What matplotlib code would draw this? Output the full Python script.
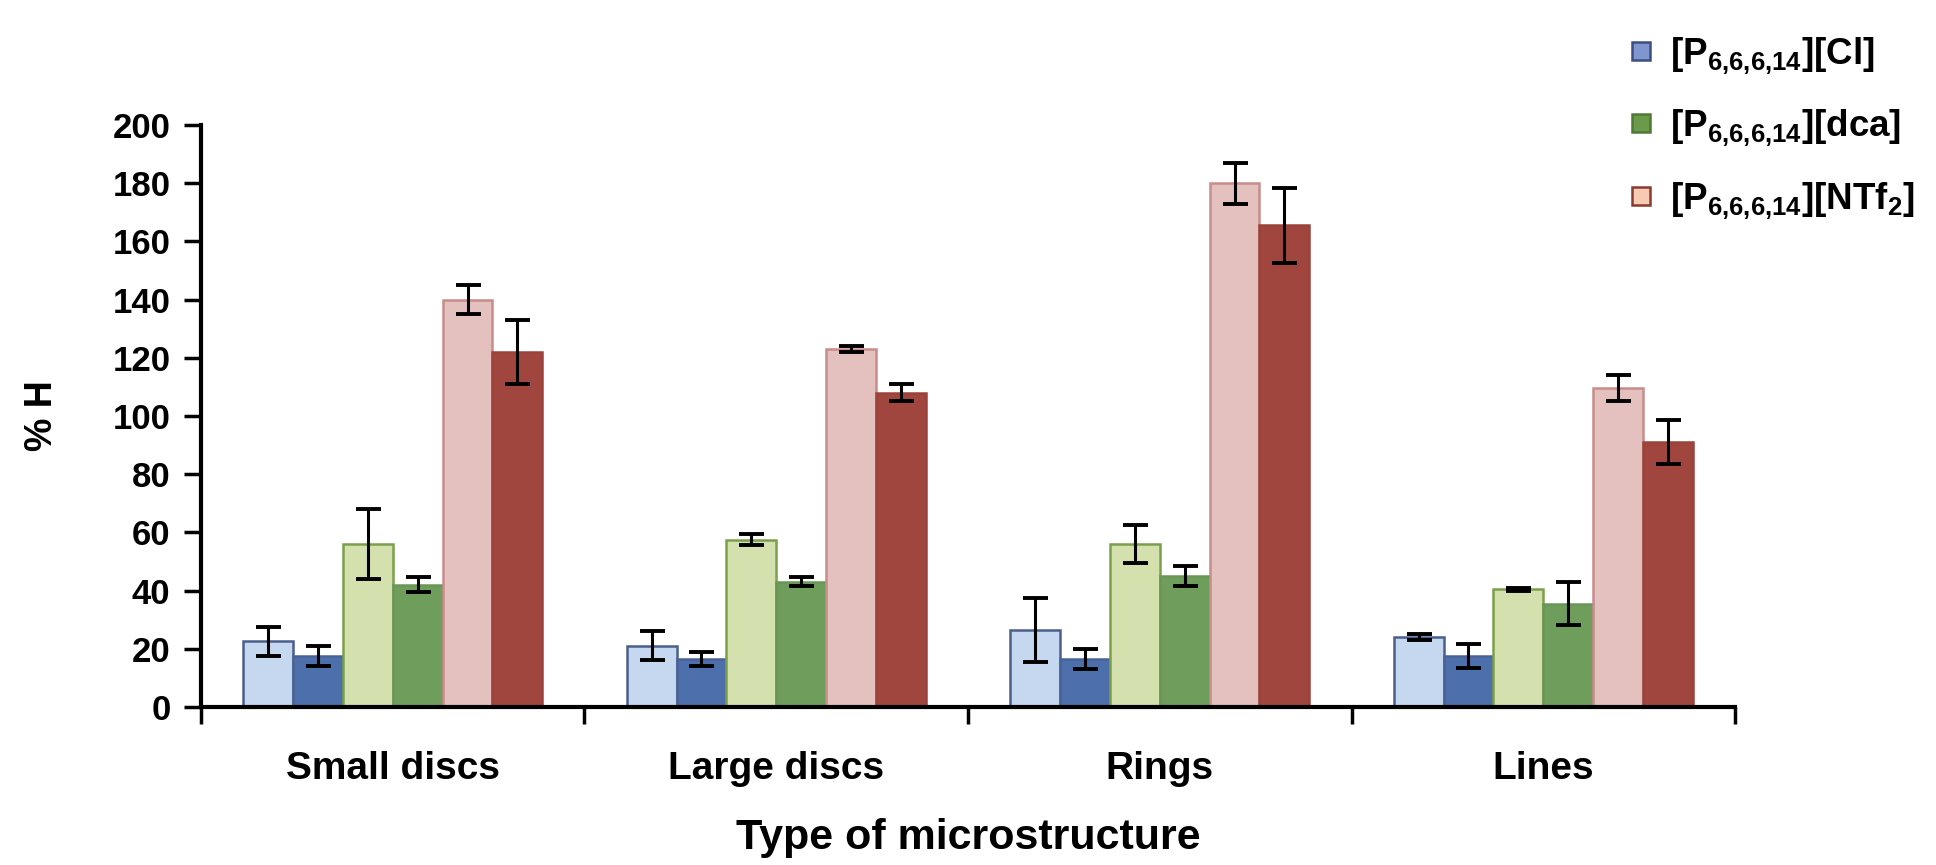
import matplotlib
matplotlib.use("Agg")
import matplotlib.pyplot as plt
from matplotlib.lines import Line2D
import numpy as np

plt.rcParams['font.family'] = ['Liberation Sans', 'DejaVu Sans']
plt.rcParams['font.weight'] = 'bold'
plt.rcParams['mathtext.fontset'] = 'custom'
plt.rcParams['mathtext.rm'] = 'Liberation Sans:bold'
plt.rcParams['mathtext.bf'] = 'Liberation Sans:bold'
plt.rcParams['mathtext.it'] = 'Liberation Sans:bold'

categories = ["Small discs", "Large discs", "Rings", "Lines"]
series_names = ["Cl a", "Cl b", "dca a", "dca b", "NTf2 a", "NTf2 b"]
values = [
    [22.5, 21.0, 26.5, 24.0],
    [17.5, 16.5, 16.5, 17.5],
    [56.0, 57.5, 56.0, 40.5],
    [42.0, 43.0, 45.0, 35.5],
    [140.0, 123.0, 180.0, 109.5],
    [122.0, 108.0, 165.5, 91.0],
]
errors = [
    [5.0, 5.0, 11.0, 1.0],
    [3.5, 2.5, 3.5, 4.0],
    [12.0, 2.0, 6.5, 0.5],
    [2.5, 1.5, 3.5, 7.5],
    [5.0, 1.0, 7.0, 4.5],
    [11.0, 3.0, 13.0, 7.5],
]
legend_labels = [r"[P$_{\mathrm{6{,}6{,}6{,}14}}$][Cl]",
                 r"[P$_{\mathrm{6{,}6{,}6{,}14}}$][dca]",
                 r"[P$_{\mathrm{6{,}6{,}6{,}14}}$][NTf$_{\mathrm{2}}$]"]
yticks = [0, 20, 40, 60, 80, 100, 120, 140, 160, 180, 200]

fills = ["#c6d8ef", "#4d6fab", "#d4e0ae", "#6e9d5c", "#e4c0bf", "#a0463f"]
edges = ["#4b5f8c", "#4a6396", "#7aa04c", "#6a9656", "#c88c8a", "#9a423b"]
leg_fill = ["#7f96cf", "#6a9a4a", "#f6cbb2"]
leg_edge = ["#3d4f80", "#4e7a36", "#8a3a30"]

fig = plt.figure(figsize=(19.36, 8.65), dpi=100)
ax = fig.add_axes([0.1038, 0.1827, 0.7924, 0.6728])

n = len(categories)
x = np.arange(n)
w = 0.13
for i in range(6):
    pos = x + (i - 2.5) * w
    ax.bar(pos, values[i], width=w, color=fills[i], edgecolor=edges[i], linewidth=1.8, zorder=2)
    ax.errorbar(pos, values[i], yerr=errors[i], fmt='none', ecolor='black',
                elinewidth=2.2, capsize=9, capthick=2.8, zorder=3)

ax.set_xlim(-0.5, n - 0.5)
ax.set_ylim(0, 200)
ax.set_yticks(yticks)
ax.set_yticklabels([str(t) for t in yticks], fontsize=25, fontweight='bold')
ax.set_xticks(x)
ax.set_xticklabels(categories, fontsize=28, fontweight='bold')
ax.set_xticks(np.arange(-0.5, n, 1.0), minor=True)
ax.tick_params(axis='x', which='major', length=0, pad=32)
ax.tick_params(axis='x', which='minor', length=12, width=2.5, direction='out')
ax.tick_params(axis='y', which='major', length=12, width=2.5, direction='out', pad=10)

for s in ['top', 'right']:
    ax.spines[s].set_visible(False)
for s in ['left', 'bottom']:
    ax.spines[s].set_linewidth(3)

ax.set_ylabel("% H", fontsize=27, fontweight='bold', labelpad=38)
ax.set_xlabel("Type of microstructure", fontsize=31, fontweight='bold', labelpad=22)

handles = [Line2D([], [], linestyle='none', marker='s', markersize=13,
                  markerfacecolor=leg_fill[k], markeredgecolor=leg_edge[k], markeredgewidth=1.8)
           for k in range(3)]
leg = fig.legend(handles, legend_labels, loc='upper left', bbox_to_anchor=(0.819, 0.998),
                 frameon=False, labelspacing=0.86, handletextpad=0.2, handlelength=1.2,
                 prop={'weight': 'bold', 'size': 26.5})

fig.savefig("out.png", dpi=100)
